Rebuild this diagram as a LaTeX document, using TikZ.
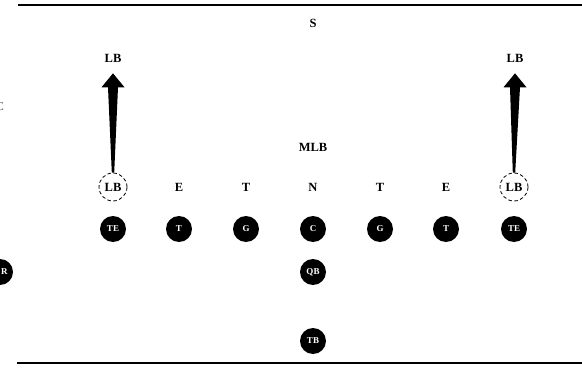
\documentclass[tikz,border=0pt]{standalone}
\usepackage{fontspec}
\setmainfont{Liberation Serif}
\usetikzlibrary{calc}
\begin{document}
\begin{tikzpicture}[x=1pt,y=-1pt,
  lbl/.style={font=\bfseries\fontsize{12.5}{12.5}\selectfont, inner sep=0pt},
  player/.style={circle, fill=black, minimum size=26pt, inner sep=0pt,
    text=white, font=\bfseries\fontsize{9}{9}\selectfont},
  lbcircle/.style={circle, draw, line width=0.8pt, dash pattern=on 3.5pt off 2.5pt,
    minimum size=28pt, inner sep=0pt, font=\bfseries\fontsize{12.5}{12.5}\selectfont},
  rule/.style={line width=1.2pt}]
\useasboundingbox (0,0) rectangle (582,372);
% frame lines
\coordinate (tl) at (18,5);
\coordinate (tr) at (582,5);
\coordinate (bl) at (17,363);
\coordinate (br) at (582,363);
\draw[rule] (tl) -- (tr);
\draw[rule] (bl) -- (br);
% defense
\node[lbl] (s) at (313,23) {S};
\node[lbl] (mlb) at (313,147) {MLB};
\node[lbl] (lbtL) at (113,58) {LB};
\node[lbl] (lbtR) at (515,58) {LB};
\node[lbcircle] (lbL) at (113,187) {LB};
\node[lbcircle] (lbR) at (514,187) {LB};
\node[lbl] (e1) at (179,187) {E};
\node[lbl] (t1) at (246,187) {T};
\node[lbl] (n) at (313,187) {N};
\node[lbl] (t2) at (380,187) {T};
\node[lbl] (e2) at (446,187) {E};
\node[font=\fontsize{12}{12}\selectfont, text=black!70, inner sep=0pt] (c) at (0,107) {C};
% offense
\node[player] (te1) at (113,229) {TE};
\node[player] (ot1) at (179,229) {T};
\node[player] (g1) at (246,229) {G};
\node[player] (ce) at (313,229) {C};
\node[player] (g2) at (380,229) {G};
\node[player] (ot2) at (446,229) {T};
\node[player] (te2) at (514,229) {TE};
\node[player] (qb) at (313,272) {QB};
\node[player] (tb) at (313,341) {TB};
\node[player] (wr) at (0,272) {\hphantom{W}R};
% wedge arrows
\foreach \from/\to in {lbL/lbtL, lbR/lbtR}{
  \fill ($(\from.north)+(-1.2,0)$) -- ($(\to.south)+(-5,25)$) -- ($(\to.south)+(-11.5,25)$)
     -- ($(\to.south)+(0,11)$) -- ($(\to.south)+(11.5,25)$) -- ($(\to.south)+(5,25)$)
     -- ($(\from.north)+(1.2,0)$) -- cycle;
}
\end{tikzpicture}
\end{document}
